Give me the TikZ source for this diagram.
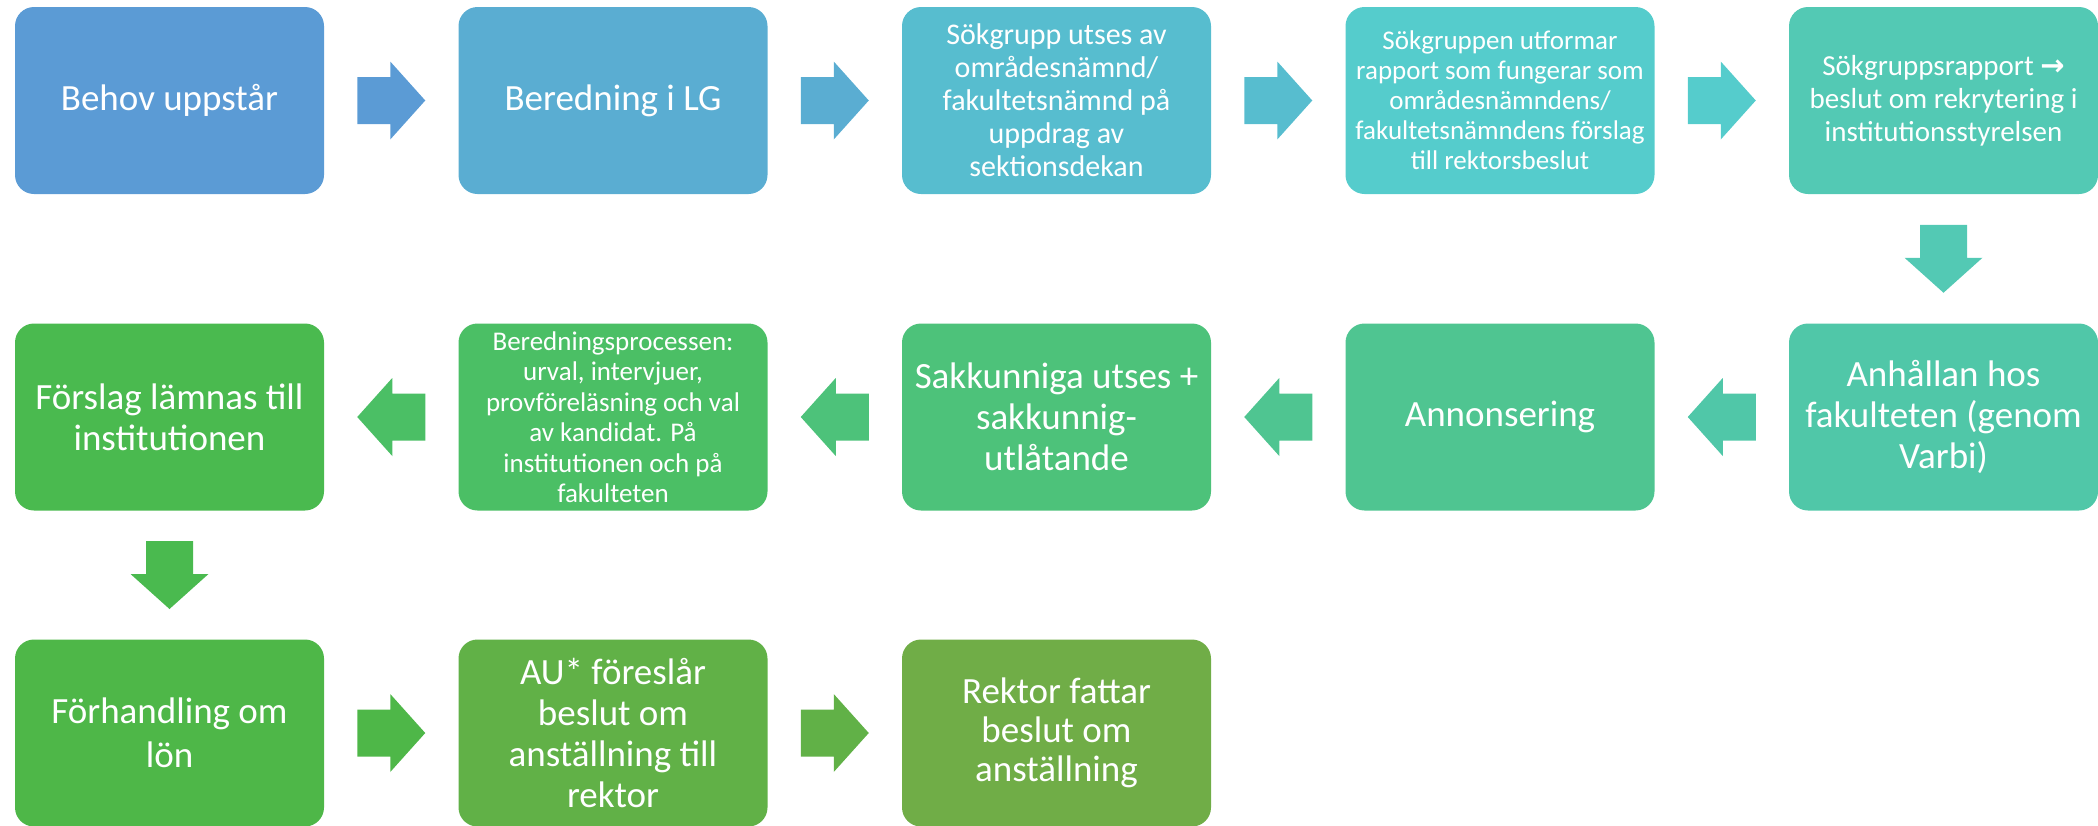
\documentclass[tikz,border=0pt]{standalone}
\usepackage{fontspec}
\setmainfont{Carlito}
\newfontfamily\symfont{DejaVu Sans}
\usetikzlibrary{calc}
\definecolor{c1}{HTML}{5B9BD5}
\definecolor{c2}{HTML}{5AADD2}
\definecolor{c3}{HTML}{57BDCF}
\definecolor{c4}{HTML}{55CCCC}
\definecolor{c5}{HTML}{53C9B4}
\definecolor{c6}{HTML}{50C7A8}
\definecolor{c7}{HTML}{4FC591}
\definecolor{c8}{HTML}{4DC27A}
\definecolor{c9}{HTML}{4BBF65}
\definecolor{c10}{HTML}{4ABA4F}
\definecolor{c11}{HTML}{4EB748}
\definecolor{c12}{HTML}{61B147}
\definecolor{c13}{HTML}{70AD47}
\tikzset{
  stepbox/.style={rounded corners=19pt, minimum width=309pt, minimum height=187pt,
    inner sep=4pt, align=center, text=white, font=\fontsize{37}{41}\selectfont},
  smallA/.style={font=\fontsize{30}{33}\selectfont},
  smallB/.style={font=\fontsize{27}{30}\selectfont},
  smallC/.style={font=\fontsize{29}{33}\selectfont},
  smallD/.style={font=\fontsize{27}{30.5}\selectfont},
  blockarrow/.pic={\fill[pic actions] (-34,-23.5) -- (-1,-23.5) -- (-1,-39) -- (34,0) -- (-1,39) -- (-1,23.5) -- (-34,23.5) -- cycle;}
}
\begin{document}
\begin{tikzpicture}[x=1pt,y=1pt]
\useasboundingbox (0,0) rectangle (2098,-825);
% row 1
\node[stepbox, fill=c1] (b1) at (169.5,-100.5) {Behov uppstår};
\node[stepbox, fill=c2] (b2) at (613,-100.5) {Beredning i LG};
\node[stepbox, fill=c3, smallA] (b3) at (1056.5,-100.5) {Sökgrupp utses av\\områdesnämnd/\\fakultetsnämnd på\\uppdrag av\\sektionsdekan};
\node[stepbox, fill=c4, smallB] (b4) at (1500,-100.5) {Sökgruppen utformar\\rapport som fungerar som\\områdesnämndens/\\fakultetsnämndens förslag\\till rektorsbeslut};
\node[stepbox, fill=c5, smallC] (b5) at (1943.5,-100.5) {Sökgruppsrapport {\symfont\bfseries →}\\beslut om rekrytering i\\institutionsstyrelsen};
% row 2
\node[stepbox, fill=c6] (b6) at (1943.5,-417) {Anhållan hos\\fakulteten (genom\\Varbi)};
\node[stepbox, fill=c7] (b7) at (1500,-417) {Annonsering};
\node[stepbox, fill=c8] (b8) at (1056.5,-417) {Sakkunniga utses +\\sakkunnig-\\utlåtande};
\node[stepbox, fill=c9, smallD] (b9) at (613,-417) {Beredningsprocessen:\\urval, intervjuer,\\provföreläsning och val\\av kandidat. På\\institutionen och på\\fakulteten};
\node[stepbox, fill=c10] (b10) at (169.5,-417) {Förslag lämnas till\\institutionen};
% row 3
\node[stepbox, fill=c11, font=\fontsize{37}{44}\selectfont] (b11) at (169.5,-733) {Förhandling om\\lön};
\node[stepbox, fill=c12] (b12) at (613,-733) {AU* föreslår\\beslut om\\anställning till\\rektor};
\node[stepbox, fill=c13, font=\fontsize{37}{39}\selectfont] (b13) at (1056.5,-733) {Rektor fattar\\beslut om\\anställning};
% arrows
\pic[fill=c1] at ($(b1.east)!0.5!(b2.west)$) {blockarrow};
\pic[fill=c2] at ($(b2.east)!0.5!(b3.west)$) {blockarrow};
\pic[fill=c3] at ($(b3.east)!0.5!(b4.west)$) {blockarrow};
\pic[fill=c4] at ($(b4.east)!0.5!(b5.west)$) {blockarrow};
\pic[fill=c5, rotate=-90] at ($(b5.south)!0.5!(b6.north)$) {blockarrow};
\pic[fill=c6, rotate=180] at ($(b6.west)!0.5!(b7.east)$) {blockarrow};
\pic[fill=c7, rotate=180] at ($(b7.west)!0.5!(b8.east)$) {blockarrow};
\pic[fill=c8, rotate=180] at ($(b8.west)!0.5!(b9.east)$) {blockarrow};
\pic[fill=c9, rotate=180] at ($(b9.west)!0.5!(b10.east)$) {blockarrow};
\pic[fill=c10, rotate=-90] at ($(b10.south)!0.5!(b11.north)$) {blockarrow};
\pic[fill=c11] at ($(b11.east)!0.5!(b12.west)$) {blockarrow};
\pic[fill=c12] at ($(b12.east)!0.5!(b13.west)$) {blockarrow};
\end{tikzpicture}
\end{document}
